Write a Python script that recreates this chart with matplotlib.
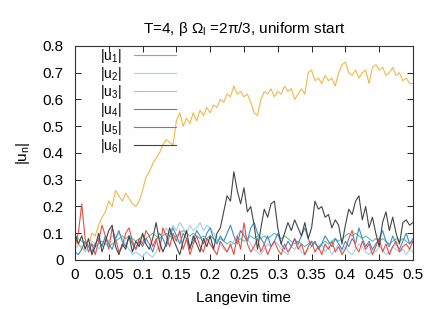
import numpy as np
import matplotlib
matplotlib.use("Agg")
import matplotlib.pyplot as plt

plt.rcParams["font.family"] = ["Liberation Sans", "DejaVu Sans"]
plt.rcParams["mathtext.fontset"] = "custom"
plt.rcParams["mathtext.rm"] = "Liberation Sans"
plt.rcParams["mathtext.it"] = "Liberation Sans"

T_START = 0.0
T_STEP = 0.005

U1 = [
    0.09, 0.08, 0.07, 0.06, 0.05, 0.06, 0.05, 0.06, 0.07, 0.06,
    0.05, 0.06, 0.07, 0.08, 0.09, 0.08, 0.09, 0.08, 0.07, 0.08,
    0.09, 0.08, 0.09, 0.10, 0.09, 0.08, 0.09, 0.10, 0.09, 0.08,
    0.09, 0.10, 0.11, 0.10, 0.09, 0.10, 0.09, 0.08, 0.09, 0.08,
    0.09, 0.08, 0.07, 0.08, 0.07, 0.06, 0.07, 0.06, 0.07, 0.08,
    0.07, 0.08, 0.09, 0.08, 0.09, 0.08, 0.09, 0.08, 0.09, 0.10,
    0.09, 0.08, 0.09, 0.08, 0.07, 0.06, 0.07, 0.06, 0.05, 0.06,
    0.07, 0.06, 0.05, 0.06, 0.07, 0.06, 0.07, 0.08, 0.07, 0.08,
    0.09, 0.10, 0.09, 0.10, 0.09, 0.08, 0.09, 0.08, 0.07, 0.08,
    0.07, 0.08, 0.07, 0.06, 0.07, 0.08, 0.07, 0.08, 0.07, 0.06,
    0.07,
]

U2 = [
    0.04, 0.06, 0.05, 0.03, 0.05, 0.07, 0.06, 0.04, 0.06, 0.08,
    0.07, 0.09, 0.08, 0.10, 0.08, 0.06, 0.04, 0.02, 0.03, 0.02,
    0.01, 0.03, 0.02, 0.01, 0.03, 0.06, 0.09, 0.12, 0.10, 0.13,
    0.11, 0.14, 0.12, 0.10, 0.13, 0.11, 0.12, 0.14, 0.11, 0.13,
    0.12, 0.10, 0.08, 0.06, 0.04, 0.03, 0.05, 0.07, 0.09, 0.11,
    0.10, 0.08, 0.06, 0.04, 0.03, 0.02, 0.04, 0.06, 0.05, 0.07,
    0.06, 0.04, 0.03, 0.02, 0.05, 0.04, 0.06, 0.03, 0.02, 0.04,
    0.05, 0.07, 0.04, 0.06, 0.03, 0.05, 0.02, 0.04, 0.06, 0.03,
    0.05, 0.03, 0.02, 0.04, 0.06, 0.05, 0.03, 0.02, 0.04, 0.03,
    0.05, 0.04, 0.02, 0.03, 0.05, 0.04, 0.03, 0.04, 0.02, 0.04,
    0.03,
]

U3 = [
    0.08, 0.06, 0.04, 0.07, 0.05, 0.10, 0.09, 0.13, 0.16, 0.18,
    0.22, 0.20, 0.26, 0.24, 0.22, 0.25, 0.23, 0.21, 0.20, 0.22,
    0.26, 0.31, 0.33, 0.36, 0.38, 0.40, 0.43, 0.45, 0.44, 0.43,
    0.52, 0.55, 0.50, 0.53, 0.51, 0.55, 0.52, 0.56, 0.54, 0.57,
    0.55, 0.58, 0.57, 0.60, 0.59, 0.62, 0.61, 0.65, 0.62, 0.63,
    0.61, 0.62, 0.59, 0.55, 0.54, 0.60, 0.63, 0.62, 0.64, 0.61,
    0.63, 0.62, 0.65, 0.63, 0.64, 0.60, 0.62, 0.64, 0.62, 0.70,
    0.71, 0.67, 0.68, 0.66, 0.69, 0.67, 0.68, 0.65, 0.70, 0.73,
    0.74, 0.70, 0.69, 0.71, 0.68, 0.70, 0.71, 0.66, 0.72, 0.73,
    0.71, 0.72, 0.69, 0.70, 0.72, 0.69, 0.70, 0.67, 0.68, 0.66,
    0.66,
]

U4 = [
    0.03, 0.02, 0.04, 0.07, 0.05, 0.03, 0.06, 0.08, 0.05, 0.09,
    0.06, 0.04, 0.08, 0.11, 0.07, 0.05, 0.09, 0.06, 0.04, 0.07,
    0.05, 0.08, 0.06, 0.03, 0.07, 0.10, 0.08, 0.05, 0.09, 0.12,
    0.09, 0.06, 0.10, 0.08, 0.05, 0.07, 0.11, 0.09, 0.06, 0.10,
    0.12, 0.08, 0.06, 0.09, 0.07, 0.10, 0.13, 0.09, 0.06, 0.11,
    0.09, 0.07, 0.12, 0.14, 0.10, 0.08, 0.06, 0.09, 0.05, 0.07,
    0.10, 0.06, 0.04, 0.07, 0.05, 0.08, 0.06, 0.09, 0.12, 0.08,
    0.05, 0.07, 0.04, 0.06, 0.09, 0.07, 0.05, 0.08, 0.06, 0.04,
    0.07, 0.05, 0.08, 0.06, 0.12, 0.08, 0.05, 0.07, 0.04, 0.06,
    0.08, 0.11, 0.07, 0.05, 0.09, 0.06, 0.04, 0.07, 0.10, 0.06,
    0.08,
]

U5 = [
    0.05, 0.10, 0.21, 0.08, 0.03, 0.06, 0.02, 0.07, 0.13, 0.09,
    0.04, 0.12, 0.08, 0.03, 0.05, 0.10, 0.12, 0.07, 0.04, 0.08,
    0.06, 0.11, 0.09, 0.05, 0.08, 0.03, 0.12, 0.09, 0.05, 0.10,
    0.07, 0.11, 0.04, 0.08, 0.02, 0.06, 0.09, 0.05, 0.03, 0.08,
    0.06, 0.04, 0.02, 0.07, 0.05, 0.03, 0.06, 0.02, 0.09, 0.04,
    0.14, 0.06, 0.03, 0.05, 0.08, 0.03, 0.06, 0.02, 0.05, 0.07,
    0.04, 0.02, 0.06, 0.03, 0.05, 0.08, 0.04, 0.06, 0.02, 0.05,
    0.07, 0.03, 0.05, 0.02, 0.06, 0.04, 0.07, 0.03, 0.05, 0.02,
    0.04, 0.08, 0.11, 0.05, 0.03, 0.07, 0.04, 0.06, 0.02, 0.05,
    0.08, 0.03, 0.06, 0.02, 0.05, 0.07, 0.03, 0.05, 0.06, 0.04,
    0.07,
]

U6 = [
    0.10, 0.06, 0.09, 0.04, 0.08, 0.02, 0.05, 0.10, 0.03, 0.07,
    0.11, 0.13, 0.05, 0.02, 0.06, 0.04, 0.09, 0.03, 0.07, 0.05,
    0.10, 0.06, 0.04, 0.08, 0.14, 0.07, 0.03, 0.06, 0.12, 0.08,
    0.05, 0.02, 0.07, 0.11, 0.04, 0.09, 0.06, 0.03, 0.08, 0.05,
    0.09, 0.04, 0.10, 0.12, 0.18, 0.24, 0.22, 0.33, 0.26, 0.21,
    0.27, 0.18, 0.20, 0.13, 0.04, 0.12, 0.19, 0.16, 0.21, 0.22,
    0.12, 0.06, 0.10, 0.14, 0.11, 0.15, 0.12, 0.09, 0.14, 0.08,
    0.12, 0.22, 0.19, 0.20, 0.16, 0.17, 0.12, 0.15, 0.13, 0.06,
    0.13, 0.19, 0.17, 0.22, 0.24, 0.15, 0.20, 0.12, 0.16, 0.10,
    0.05, 0.14, 0.18, 0.11, 0.16, 0.10, 0.06, 0.14, 0.15, 0.13,
    0.14,
]

SERIES = [
    (r"|u$_1$|", U1, "#5cc49c"),
    (r"|u$_2$|", U2, "#9ed3f0"),
    (r"|u$_3$|", U3, "#f2b844"),
    (r"|u$_4$|", U4, "#3a8dd0"),
    (r"|u$_5$|", U5, "#ee4c44"),
    (r"|u$_6$|", U6, "#444444"),
]

X_TICKS = [0, 0.05, 0.1, 0.15, 0.2, 0.25, 0.3, 0.35, 0.4, 0.45, 0.5]
Y_TICKS = [0, 0.1, 0.2, 0.3, 0.4, 0.5, 0.6, 0.7, 0.8]

FS = 11


def main():
    fig = plt.figure(figsize=(4.41, 3.09), dpi=100)
    ax = fig.add_axes([0.170, 0.1586, 0.7665, 0.6926])

    for label, values, color in SERIES:
        t = T_START + T_STEP * np.arange(len(values))
        ax.plot(t, values, color=color, linewidth=0.8, label=label)

    ax.set_xlim(0, 0.5)
    ax.set_ylim(0, 0.8)
    ax.set_xticks(X_TICKS)
    ax.set_xticklabels([f"{v:g}" for v in X_TICKS])
    ax.set_yticks(Y_TICKS)
    ax.set_yticklabels([f"{v:g}" for v in Y_TICKS])
    ax.tick_params(direction="in", length=4, width=0.6, labelsize=FS,
                   top=True, right=True, pad=6)
    ax.tick_params(axis="y", pad=8)
    for spine in ax.spines.values():
        spine.set_linewidth(0.8)
        spine.set_color("#333333")

    ax.set_title(r"T=4, β Ω$_\mathregular{l}$ =2π/3, uniform start",
                 fontsize=FS, pad=9)
    ax.set_xlabel("Langevin time", fontsize=FS, labelpad=6)
    ax.set_ylabel(r"|u$_\mathregular{n}$|", fontsize=FS, labelpad=8)

    ax.legend(loc="upper left", bbox_to_anchor=(0.05, 1.035), frameon=False,
              markerfirst=False, fontsize=10, handlelength=3.0,
              handletextpad=0.9, labelspacing=0.0, borderaxespad=0.2)

    fig.savefig("out.png", dpi=100)


if __name__ == "__main__":
    main()
